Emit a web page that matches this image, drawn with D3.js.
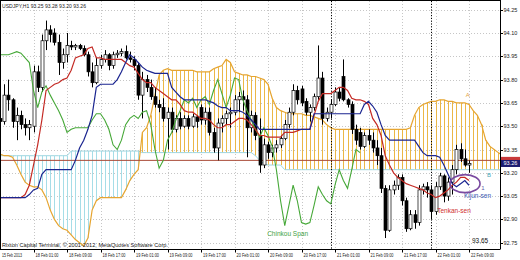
<!DOCTYPE html>
<html><head><meta charset="utf-8">
<script src="https://cdn.jsdelivr.net/npm/d3@7"></script>
<style>html,body{margin:0;padding:0;background:#fff;overflow:hidden}svg{display:block}text{font-family:"Liberation Sans",Arial,sans-serif}</style>
</head><body><svg id="c" width="520" height="260"></svg>
<script>
const symbolTitle = "USDJPY,H1  93.25 93.28 93.20 93.26";
const copyright = "Rixton Capital Terminal, \u00a9 2001-2012, MetaQuotes Software Corp.";
const priceTicks = [94.25,94.10,93.95,93.80,93.65,93.50,93.35,93.20,93.05,92.90,92.75];
const timeLabels = ["15 Feb 2013","18 Feb 01:00","18 Feb 09:00","18 Feb 17:00","19 Feb 01:00","19 Feb 09:00","19 Feb 17:00","20 Feb 01:00","20 Feb 09:00","20 Feb 17:00","21 Feb 01:00","21 Feb 09:00","21 Feb 17:00","22 Feb 01:00","22 Feb 09:00"];
const timeLabelBars = [0,8,16,24,32,40,48,56,64,72,80,88,96,104,112];
const separatorBars = [79,103];
const linePrice = 93.28;
const bidPrice = 93.26;

const open = [93.55,93.53,93.70,93.67,93.53,93.57,93.51,93.49,93.50,93.85,
93.75,94.05,94.12,94.10,94.04,93.91,93.96,94.02,94.01,94.02,
94.00,93.96,93.85,93.78,93.89,93.93,93.96,93.89,93.96,93.97,
93.98,93.94,93.93,93.89,93.70,93.80,93.75,93.69,93.64,93.62,
93.55,93.59,93.48,93.55,93.50,93.55,93.50,93.56,93.62,93.54,
93.59,93.46,93.36,93.52,93.55,93.58,93.59,93.67,93.69,93.67,
93.49,93.57,93.44,93.25,93.38,93.33,93.36,93.38,93.42,93.51,
93.59,93.73,93.74,93.66,93.59,93.62,93.69,93.81,93.55,93.59,
93.64,93.72,93.82,93.67,93.64,93.48,93.46,93.37,93.44,93.41,
93.36,93.31,93.10,92.83,93.09,93.12,93.17,93.02,92.84,92.93,
92.88,93.09,93.11,93.09,92.95,93.11,93.18,93.05,93.14,93.22,
93.35,93.29,93.25];
const high = [93.60,93.77,93.80,93.68,93.62,93.60,93.55,93.54,93.89,93.89,
94.09,94.18,94.15,94.13,94.09,94.00,94.10,94.05,94.03,94.03,
94.02,93.98,93.91,93.94,93.96,93.99,93.97,93.98,93.99,94.00,
94.02,93.98,93.95,93.91,93.85,93.83,93.80,93.75,93.67,93.68,
93.62,93.62,93.57,93.59,93.57,93.57,93.58,93.57,93.64,93.62,
93.62,93.49,93.55,93.57,93.60,93.62,93.70,93.72,93.73,93.70,
93.60,93.59,93.55,93.42,93.40,93.38,93.41,93.44,93.54,93.62,
93.77,93.76,93.76,93.68,93.64,93.71,94.02,93.85,93.62,93.67,
93.75,93.75,93.93,93.68,93.66,93.51,93.49,93.46,93.48,93.46,
93.41,93.36,93.12,93.12,93.15,93.19,93.19,93.04,92.96,92.96,
93.12,93.13,93.14,93.12,93.14,93.20,93.19,93.17,93.25,93.38,
93.39,93.35,93.28];
const low = [93.49,93.51,93.60,93.49,93.41,93.48,93.44,93.41,93.46,93.72,
93.72,93.99,94.04,94.02,93.83,93.87,93.91,93.99,93.99,93.99,
93.95,93.82,93.75,93.77,93.87,93.91,93.86,93.87,93.94,93.95,
93.93,93.91,93.86,93.67,93.55,93.72,93.67,93.62,93.59,93.53,
93.35,93.46,93.46,93.48,93.49,93.48,93.49,93.49,93.51,93.51,
93.44,93.33,93.28,93.46,93.51,93.49,93.57,93.59,93.60,93.30,
93.46,93.41,93.20,93.23,93.29,93.30,93.33,93.36,93.41,93.49,
93.57,93.64,93.63,93.57,93.53,93.60,93.67,93.51,93.53,93.55,
93.63,93.66,93.66,93.62,93.45,93.38,93.35,93.36,93.38,93.33,
93.25,93.07,92.78,92.82,93.06,93.09,92.99,92.82,92.83,92.84,
92.86,93.06,93.04,92.90,92.93,93.09,93.01,93.02,93.06,93.19,
93.27,93.24,93.20];
const close = [93.53,93.70,93.67,93.53,93.57,93.51,93.49,93.51,93.85,93.75,
94.05,94.12,94.09,94.04,93.91,93.96,94.02,94.01,94.02,94.00,
93.96,93.85,93.78,93.89,93.93,93.96,93.89,93.96,93.97,93.98,
93.94,93.93,93.89,93.70,93.80,93.75,93.69,93.64,93.62,93.55,
93.59,93.48,93.55,93.50,93.55,93.50,93.56,93.53,93.54,93.59,
93.46,93.36,93.52,93.55,93.58,93.59,93.67,93.69,93.67,93.49,
93.57,93.44,93.25,93.38,93.33,93.36,93.38,93.42,93.51,93.59,
93.73,93.67,93.65,93.59,93.62,93.69,93.81,93.55,93.59,93.64,
93.72,93.68,93.67,93.64,93.48,93.41,93.37,93.44,93.41,93.36,
93.31,93.10,92.83,93.09,93.12,93.17,93.02,92.84,92.93,92.88,
93.09,93.11,93.09,92.95,93.11,93.18,93.05,93.14,93.22,93.35,
93.29,93.25,93.26];
const tenkan = [93.04,93.04,93.04,93.04,93.04,93.04,93.06,93.12,93.25,93.38,
93.54,93.73,93.75,93.77,93.78,93.80,93.81,93.86,93.94,93.95,
93.96,94.00,94.01,93.94,93.94,93.93,93.93,93.93,93.93,93.93,
93.91,93.89,93.88,93.84,93.80,93.78,93.78,93.75,93.73,93.71,
93.69,93.67,93.67,93.64,93.60,93.59,93.59,93.57,93.55,93.55,
93.54,93.51,93.49,93.49,93.51,93.51,93.53,93.55,93.55,93.54,
93.51,93.48,93.44,93.44,93.43,93.43,93.43,93.43,93.46,93.46,
93.46,93.47,93.48,93.48,93.48,93.57,93.66,93.71,93.71,93.71,
93.73,93.75,93.75,93.73,93.68,93.67,93.67,93.66,93.64,93.55,
93.51,93.44,93.31,93.25,93.20,93.17,93.15,93.13,93.12,93.11,
93.10,93.09,93.07,93.06,93.04,93.05,93.07,93.09,93.12,93.14,
93.17,93.17,93.15];
const kijun = [93.04,93.04,93.04,93.04,93.04,93.04,93.04,93.06,93.09,93.10,
93.19,93.22,93.22,93.22,93.22,93.22,93.22,93.22,93.28,93.36,
93.41,93.48,93.57,93.75,93.77,93.77,93.77,93.77,93.80,93.85,
93.91,93.96,93.94,93.91,93.88,93.86,93.85,93.84,93.84,93.84,
93.84,93.75,93.72,93.69,93.67,93.67,93.67,93.67,93.67,93.67,
93.66,93.65,93.63,93.62,93.62,93.60,93.60,93.60,93.59,93.57,
93.54,93.51,93.48,93.48,93.48,93.48,93.48,93.48,93.48,93.48,
93.48,93.48,93.48,93.48,93.48,93.58,93.58,93.58,93.58,93.58,
93.58,93.58,93.58,93.58,93.58,93.58,93.58,93.64,93.66,93.63,
93.59,93.51,93.44,93.41,93.41,93.41,93.41,93.41,93.41,93.41,
93.37,93.33,93.31,93.31,93.31,93.30,93.25,93.19,93.13,93.11,
93.13,93.15,93.12];
const chinkou = [93.96,93.96,93.96,93.97,93.98,93.97,93.94,93.91,93.73,93.62,
93.72,93.76,93.70,93.65,93.60,93.54,93.46,93.48,93.49,93.49,
93.49,93.49,93.54,93.58,93.58,93.54,93.48,93.38,93.35,93.41,
93.51,93.55,93.57,93.55,93.59,93.60,93.51,93.35,93.23,93.28,
93.41,93.46,93.54,93.60,93.67,93.65,93.68,93.62,93.67,93.69,
93.64,93.73,93.80,93.71,93.62,93.70,93.81,93.80,93.67,93.60,
93.54,93.48,93.43,93.49,93.44,93.37,93.22,93.02,92.86,92.99,
93.12,93.02,92.88,92.87,92.88,92.99,93.11,93.06,93.02,93.00,
93.12,93.22,93.15,93.10,93.22,93.35,93.33];
const spanA = [93.32,93.31,93.31,93.30,93.25,93.19,93.14,93.12,93.11,93.11,
93.09,93.04,92.96,92.90,92.86,92.84,92.83,92.80,92.77,92.75,
92.73,92.78,92.96,93.02,93.04,93.04,93.04,93.04,93.04,93.04,
93.09,93.15,93.19,93.22,93.46,93.49,93.57,93.70,93.83,93.86,
93.87,93.86,93.86,93.86,93.86,93.86,93.86,93.85,93.85,93.85,
93.85,93.87,93.88,93.89,93.93,93.91,93.85,93.84,93.83,93.83,
93.82,93.82,93.81,93.80,93.77,93.68,93.62,93.60,93.59,93.58,
93.58,93.58,93.58,93.57,93.57,93.56,93.55,93.54,93.51,93.49,
93.48,93.48,93.48,93.48,93.48,93.48,93.48,93.48,93.48,93.48,
93.48,93.48,93.48,93.48,93.48,93.48,93.48,93.48,93.49,93.57,
93.62,93.64,93.65,93.66,93.66,93.67,93.67,93.66,93.66,93.65,
93.65,93.65,93.64,93.60,93.57,93.51,93.41,93.37,93.35,93.33,
93.31];
const spanB = [93.31,93.31,93.31,93.31,93.31,93.31,93.31,93.31,93.31,93.31,
93.31,93.31,93.31,93.31,93.31,93.31,93.31,93.34,93.34,93.34,
93.34,93.34,93.34,93.34,93.34,93.34,93.34,93.34,93.34,93.34,
93.34,93.34,93.34,93.34,93.33,93.33,93.33,93.33,93.33,93.33,
93.33,93.33,93.33,93.33,93.33,93.33,93.33,93.33,93.33,93.33,
93.33,93.33,93.33,93.33,93.33,93.33,93.33,93.33,93.33,93.33,
93.33,93.31,93.28,93.26,93.25,93.25,93.25,93.25,93.22,93.22,
93.22,93.22,93.22,93.22,93.22,93.22,93.22,93.22,93.22,93.22,
93.22,93.22,93.22,93.22,93.22,93.22,93.22,93.22,93.22,93.22,
93.22,93.22,93.22,93.22,93.22,93.22,93.22,93.22,93.22,93.22,
93.22,93.22,93.22,93.22,93.22,93.22,93.22,93.22,93.22,93.22,
93.22,93.22,93.22,93.22,93.22,93.22,93.22,93.22,93.22,93.22,
93.22];

const svg = d3.select("#c");
const W = 520, H = 260, plotR = 500, plotT = 1, plotB = 249.5;
const x = d3.scaleLinear().domain([0, 8]).range([0, 33.5]);
const y = d3.scaleLinear().domain([92.75, 94.25]).range([242.7, 9.7]);

svg.append("rect").attr("width", W).attr("height", H).attr("fill", "#fff");
svg.append("defs").append("clipPath").attr("id", "pc")
  .append("rect").attr("x", 0).attr("y", plotT).attr("width", plotR).attr("height", plotB - plotT);
const g = svg.append("g").attr("clip-path", "url(#pc)");

// grid
g.selectAll("line.hg").data(priceTicks).join("line")
  .attr("x1", 0).attr("x2", plotR).attr("y1", d => Math.round(y(d)) + 0.5).attr("y2", d => Math.round(y(d)) + 0.5)
  .attr("stroke", "#c6c6c6").attr("stroke-dasharray", "1,2");
g.selectAll("line.vg").data(timeLabelBars.slice(1)).join("line")
  .attr("x1", d => Math.round(x(d)) + 0.5).attr("x2", d => Math.round(x(d)) + 0.5)
  .attr("y1", plotT).attr("y2", plotB).attr("stroke", "#c6c6c6").attr("stroke-dasharray", "1,2");

// cloud hatch
const cloudIdx = d3.range(spanA.length);
g.selectAll("line.hatch").data(cloudIdx).join("line")
  .attr("x1", i => Math.round(x(i)) + 0.5).attr("x2", i => Math.round(x(i)) + 0.5)
  .attr("y1", i => y(spanA[i])).attr("y2", i => y(spanB[i]))
  .attr("stroke", i => spanA[i] >= spanB[i] ? "#ebb746" : "#a6dde7").attr("stroke-width", 1);
const lineFn = arr => d3.line().x((d, i) => x(i)).y(d => y(d))(arr);
g.append("path").attr("d", lineFn(spanB)).attr("fill", "none").attr("stroke", "#9dd6e0").attr("stroke-width", 1);
g.append("path").attr("d", lineFn(spanA)).attr("fill", "none").attr("stroke", "#e6a531").attr("stroke-width", 1.2);

// price line
g.append("line").attr("x1", 0).attr("x2", plotR).attr("y1", y(linePrice)).attr("y2", y(linePrice))
  .attr("stroke", "#a84a36").attr("stroke-width", 1);

// separators
g.selectAll("line.sep").data(separatorBars).join("line")
  .attr("x1", d => Math.round(x(d)) + 0.5).attr("x2", d => Math.round(x(d)) + 0.5)
  .attr("y1", plotT).attr("y2", plotB).attr("stroke", "#000").attr("stroke-dasharray", "1.2,1.6");

// candles
const bars = d3.range(close.length);
g.selectAll("line.wick").data(bars).join("line")
  .attr("x1", i => Math.round(x(i)) + 0.5).attr("x2", i => Math.round(x(i)) + 0.5)
  .attr("y1", i => y(high[i])).attr("y2", i => y(low[i]))
  .attr("stroke", "#000").attr("stroke-width", 1);
g.selectAll("rect.body").data(bars).join("rect")
  .attr("x", i => Math.round(x(i)) - 1)
  .attr("width", 3)
  .attr("y", i => y(Math.max(open[i], close[i])))
  .attr("height", i => Math.max(1, Math.abs(y(open[i]) - y(close[i]))))
  .attr("fill", i => close[i] >= open[i] ? "#fff" : "#000")
  .attr("stroke", "#000").attr("stroke-width", 0.7);

// indicator lines
g.append("path").attr("d", lineFn(chinkou)).attr("fill", "none").attr("stroke", "#46a838").attr("stroke-width", 1.1);
g.append("path").attr("d", lineFn(tenkan)).attr("fill", "none").attr("stroke", "#c42a24").attr("stroke-width", 1.2);
g.append("path").attr("d", lineFn(kijun)).attr("fill", "none").attr("stroke", "#1b2590").attr("stroke-width", 1.2);

// annotations (bar index / price coordinates)
const fontA = "6.5px";
const ann = [
  {t: "A", b: 111.2, p: 93.69, c: "#e3a242", s: "6px"},
  {t: "B", b: 116.3, p: 93.17, c: "#4aa8b8", s: "6px"},
  {t: "1", b: 114.9, p: 93.09, c: "#5a5aa8", s: "6px"},
  {t: "Kijun-sen", b: 110.8, p: 93.04, c: "#3a58b0", s: fontA},
  {t: "Tenkan-sen", b: 104.4, p: 92.94, c: "#d02f2f", s: fontA},
  {t: "Chinkou Span", b: 63.8, p: 92.79, c: "#3f9f3f", s: fontA},
  {t: "93.65", b: 112.7, p: 92.75, c: "#111", s: "6.5px"}
];
g.selectAll("text.ann").data(ann).join("text")
  .attr("x", d => x(d.b)).attr("y", d => y(d.p))
  .attr("fill", d => d.c).attr("font-size", d => d.s).text(d => d.t);
g.append("ellipse").attr("cx", x(111.05)).attr("cy", y(93.13)).attr("rx", 15).attr("ry", 9)
  .attr("fill", "none").attr("stroke", "#7a4aa0").attr("stroke-width", 1.6);

// title & copyright
svg.append("text").attr("x", 2).attr("y", 7.5).attr("font-size", "5px").attr("fill", "#222")
  .attr("textLength", 84).attr("lengthAdjust", "spacingAndGlyphs").text(symbolTitle);
svg.append("text").attr("x", 2).attr("y", 246.5).attr("font-size", "5px").attr("fill", "#222")
  .attr("textLength", 166).attr("lengthAdjust", "spacingAndGlyphs").text(copyright);

// frame
svg.append("line").attr("x1", 0).attr("x2", plotR).attr("y1", 0.5).attr("y2", 0.5).attr("stroke", "#000");
svg.append("line").attr("x1", 0.5).attr("x2", 0.5).attr("y1", 0).attr("y2", plotB).attr("stroke", "#000");
svg.append("line").attr("x1", 0).attr("x2", plotR).attr("y1", plotB).attr("y2", plotB).attr("stroke", "#000");
svg.append("line").attr("x1", plotR + 0.5).attr("x2", plotR + 0.5).attr("y1", 0).attr("y2", plotB).attr("stroke", "#000");

// y axis
const ya = svg.append("g");
ya.selectAll("line").data(priceTicks).join("line")
  .attr("x1", plotR).attr("x2", plotR + 3).attr("y1", d => Math.round(y(d)) + 0.5).attr("y2", d => Math.round(y(d)) + 0.5)
  .attr("stroke", "#000");
ya.selectAll("text").data(priceTicks).join("text")
  .attr("x", plotR + 3.5).attr("y", d => y(d) + 2).attr("font-size", "5.5px").attr("fill", "#222")
  .text(d => d.toFixed(2));
// price tags: line-price tag partly hidden under the bid tag
svg.append("rect").attr("x", plotR + 1).attr("y", y(linePrice) - 3.5).attr("width", 19).attr("height", 7).attr("fill", "#c83a3a");
svg.append("rect").attr("x", plotR + 1).attr("y", y(bidPrice) - 3.5).attr("width", 19).attr("height", 7).attr("fill", "#1c1c70");
svg.append("text").attr("x", plotR + 3.5).attr("y", y(bidPrice) + 2).attr("font-size", "5.5px").attr("fill", "#fff").text(bidPrice.toFixed(2));

// x axis
const xa = svg.append("g");
xa.selectAll("line").data(timeLabelBars.slice(1)).join("line")
  .attr("x1", d => Math.round(x(d)) + 0.5).attr("x2", d => Math.round(x(d)) + 0.5)
  .attr("y1", plotB).attr("y2", plotB + 3).attr("stroke", "#000");
xa.selectAll("text").data(timeLabels).join("text")
  .attr("x", (d, k) => x(timeLabelBars[k]) + 2).attr("y", 256.5)
  .attr("font-size", "5px").attr("fill", "#222")
  .attr("textLength", (d, k) => k === 0 ? 20 : 23).attr("lengthAdjust", "spacingAndGlyphs")
  .text(d => d);
</script></body></html>
